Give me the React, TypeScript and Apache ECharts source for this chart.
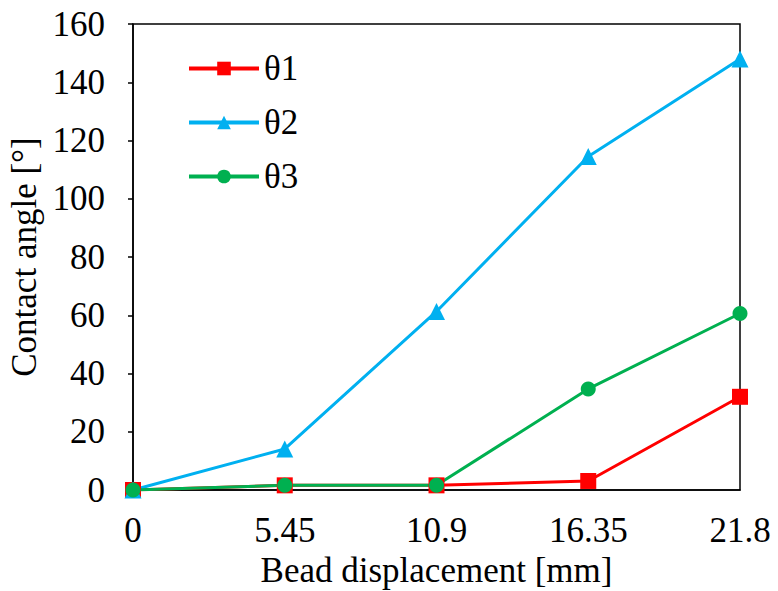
import React, { useEffect, useRef } from "react";
import * as echarts from "echarts";

const categories = ["0", "5.45", "10.9", "16.35", "21.8"];
const theta1 = [0, 1.6, 1.6, 3.1, 32];
const theta2 = [0, 14.1, 61.3, 114.5, 148];
const theta3 = [0, 1.6, 1.6, 34.7, 60.6];
const yTicks = { min: 0, max: 160, interval: 20 };

const FONT = "Liberation Serif";
const FS = 35;

export default function App() {
  const ref = useRef<HTMLDivElement>(null);
  useEffect(() => {
    if (!ref.current) return;
    const chart = echarts.init(ref.current, undefined, { renderer: "svg" });
    const mk = (name: string, data: number[], color: string, symbol: string, size: number) => ({
      name,
      type: "line",
      data,
      symbol,
      symbolSize: size,
      showAllSymbol: true,
      lineStyle: { color, width: 3 },
      itemStyle: { color },
      z: 2,
    });
    chart.setOption({
      animation: false,
      backgroundColor: "#fff",
      textStyle: { fontFamily: FONT },
      grid: {
        left: 133,
        right: 38,
        top: 24,
        bottom: 101,
        outerBoundsMode: "none",
        containLabel: false,
        show: true,
        borderColor: "#000",
        borderWidth: 1.5,
        backgroundColor: "transparent",
      },
      legend: {
        orient: "vertical",
        left: 182,
        top: 46,
        itemWidth: 70,
        itemHeight: 17,
        itemGap: 19,
        itemTextGap: 7,
        lineStyle: { width: 4 },
        textStyle: { fontFamily: FONT, fontSize: FS, color: "#000", lineHeight: FS },
        data: ["θ1", "θ2", "θ3"],
      },
      xAxis: {
        type: "category",
        data: categories,
        boundaryGap: false,
        name: "Bead displacement [mm]",
        nameLocation: "middle",
        nameGap: 62,
        nameTextStyle: { fontFamily: FONT, fontSize: FS, color: "#000" },
        axisLine: { lineStyle: { color: "#000", width: 1.5 } },
        axisTick: { show: false },
        axisLabel: { fontFamily: FONT, fontSize: FS, color: "#000", margin: 23 },
        splitLine: { show: false },
      },
      yAxis: {
        type: "value",
        min: yTicks.min,
        max: yTicks.max,
        interval: yTicks.interval,
        name: "Contact angle [°]",
        nameLocation: "middle",
        nameGap: 88,
        nameRotate: 90,
        nameTextStyle: { fontFamily: FONT, fontSize: FS, color: "#000" },
        axisLine: { show: true, lineStyle: { color: "#000", width: 1.5 } },
        axisTick: { show: true, length: 5, inside: false, lineStyle: { color: "#000", width: 1.5 } },
        axisLabel: { fontFamily: FONT, fontSize: FS, color: "#000", margin: 28 },
        splitLine: { show: false },
      },
      series: [
        mk("θ1", theta1, "#FF0000", "rect", 16),
        mk("θ2", theta2, "#00B0F0", "triangle", 17),
        mk("θ3", theta3, "#00B050", "circle", 15),
      ],
    });
    return () => chart.dispose();
  }, []);
  return (
    <div
      ref={ref}
      style={{ position: "fixed", left: 0, top: 0, width: 778, height: 591 }}
    />
  );
}
